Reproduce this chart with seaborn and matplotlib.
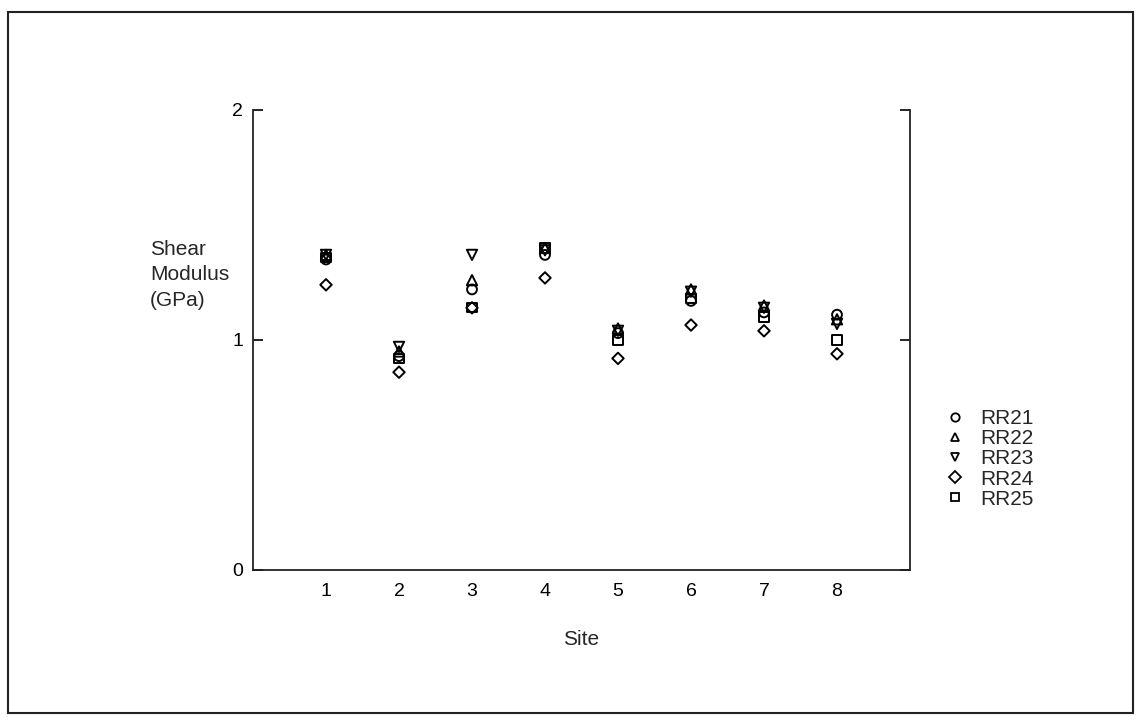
import matplotlib
matplotlib.use("Agg")
import matplotlib.pyplot as plt
import seaborn as sns
import pandas as pd
from matplotlib.patches import Rectangle

sites = [1, 2, 3, 4, 5, 6, 7, 8]
series_names = ["RR21", "RR22", "RR23", "RR24", "RR25"]
rr21 = [1.35, 0.93, 1.22, 1.37, 1.03, 1.17, 1.12, 1.11]
rr22 = [1.37, 0.95, 1.26, 1.40, 1.05, 1.22, 1.15, 1.09]
rr23 = [1.37, 0.97, 1.37, 1.39, 1.04, 1.21, 1.14, 1.07]
rr24 = [1.24, 0.86, 1.14, 1.27, 0.92, 1.065, 1.04, 0.94]
rr25 = [1.36, 0.92, 1.14, 1.40, 1.00, 1.18, 1.10, 1.00]
yticks = [0, 1, 2]

values = [rr21, rr22, rr23, rr24, rr25]
rows = []
for name, vals in zip(series_names, values):
    for s, v in zip(sites, vals):
        rows.append({"Site": s, "Value": v, "Series": name})
df = pd.DataFrame(rows)

sns.set_theme(style="white")
plt.rcParams["font.family"] = ["Liberation Sans", "DejaVu Sans"]

fig = plt.figure(figsize=(11.42, 7.27), dpi=100)
ax = fig.add_axes([253 / 1142, 1 - 570 / 727, (910 - 253) / 1142, (570 - 110) / 727])

markers = {"RR21": "o", "RR22": "^", "RR23": "v", "RR24": "D", "RR25": "s"}
msizes = {"RR21": 50, "RR22": 55, "RR23": 55, "RR24": 34, "RR25": 45}
sns.scatterplot(data=df, x="Site", y="Value", style="Series", markers=markers,
                size="Series", sizes=msizes,
                style_order=series_names, size_order=series_names,
                color="black", linewidth=1.4, ax=ax, legend=True)
for coll in ax.collections:
    coll.set_facecolor("none")
    coll.set_edgecolor("black")

ax.set_xlim(0, 9)
ax.set_ylim(0, 2)
ax.set_xticks(sites)
ax.set_xticklabels([str(s) for s in sites])
ax.set_yticks(yticks)
ax.set_yticklabels([str(t) for t in yticks])
ax.tick_params(axis="y", direction="in", length=7, width=1.2, labelsize=14,
               left=True, right=True, pad=7, colors="black")
ax.tick_params(axis="x", length=0, labelsize=14, pad=9, colors="black")
for side in ["left", "right", "bottom"]:
    ax.spines[side].set_visible(True)
    ax.spines[side].set_color("#222222")
    ax.spines[side].set_linewidth(1.3)
ax.spines["top"].set_visible(False)

ax.set_xlabel("Site", fontsize=15, labelpad=22)
ax.set_ylabel("")
fig.text(150 / 1142, 1 - 275 / 727, "Shear\nModulus\n(GPa)", fontsize=15,
         ha="left", va="center", linespacing=1.45)

# legend
handles, labels = ax.get_legend_handles_labels()
pairs = [(h, l) for h, l in zip(handles, labels) if l in series_names]
handles = [p[0] for p in pairs]
labels = [p[1] for p in pairs]
for h in handles:
    h.set_markerfacecolor("none")
    h.set_markeredgecolor("black")
    h.set_markersize(6)
    h.set_markeredgewidth(1.3)
leg = ax.legend(handles, labels, loc="center left",
                bbox_to_anchor=(924 / 1142, 1 - 459 / 727),
                bbox_transform=fig.transFigure, frameon=False,
                fontsize=15, labelspacing=0.05, handletextpad=0.6,
                handlelength=1.2)

# outer frame
fig.patches.append(Rectangle((8 / 1142, 1 - 713 / 727), (1133 - 8) / 1142,
                             (713 - 12) / 727, transform=fig.transFigure,
                             fill=False, edgecolor="#222222", linewidth=1.5))

fig.savefig("out.png", dpi=100, facecolor="white")
